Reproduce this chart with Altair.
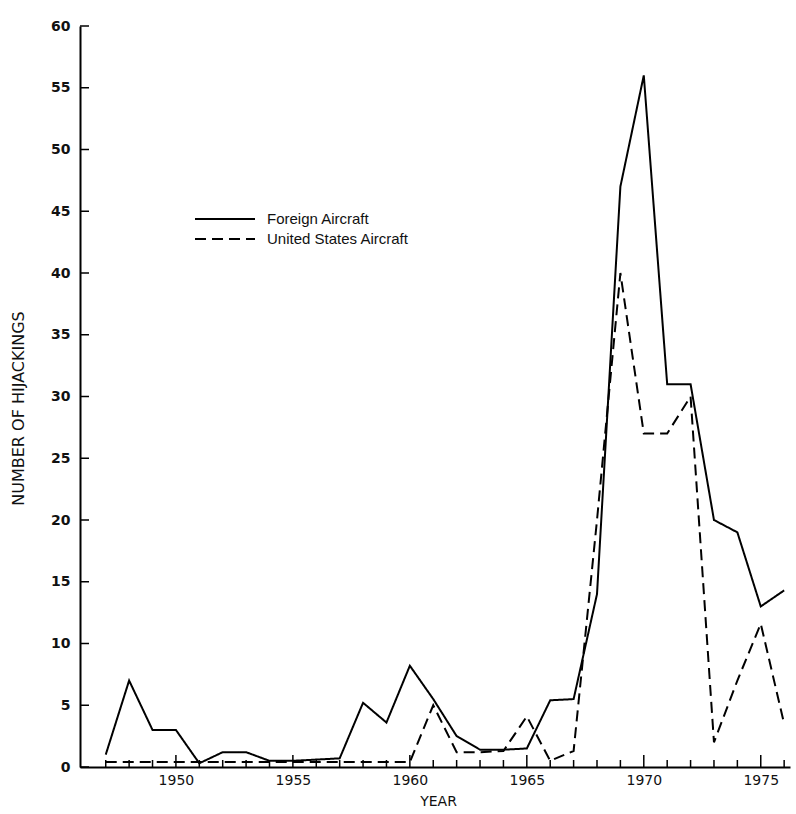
import altair as alt
import pandas as pd

years = [1947, 1948, 1949, 1950, 1951, 1952, 1953, 1954, 1955, 1956,
         1957, 1958, 1959, 1960, 1961, 1962, 1963, 1964, 1965, 1966,
         1967, 1968, 1969, 1970, 1971, 1972, 1973, 1974, 1975, 1976]
foreign = [1.0, 7.0, 3.0, 3.0, 0.3, 1.2, 1.2, 0.5, 0.5, 0.6,
           0.7, 5.2, 3.6, 8.2, 5.5, 2.5, 1.4, 1.4, 1.5, 5.4,
           5.5, 14.0, 47.0, 56.0, 31.0, 31.0, 20.0, 19.0, 13.0, 14.3]
united_states = [0.4, 0.4, 0.4, 0.4, 0.4, 0.4, 0.4, 0.4, 0.4, 0.4,
                 0.4, 0.4, 0.4, 0.4, 5.0, 1.2, 1.2, 1.3, 4.1, 0.5,
                 1.3, 20.0, 40.0, 27.0, 27.0, 30.0, 2.0, 7.0, 11.6, 3.5]
series_names = ["Foreign Aircraft", "United States Aircraft"]
y_tick_values = [0, 5, 10, 15, 20, 25, 30, 35, 40, 45, 50, 55, 60]
x_major_ticks = [1950, 1955, 1960, 1965, 1970, 1975]
x_minor_ticks = [1947, 1948, 1949, 1951, 1952, 1953, 1954, 1956, 1957, 1958,
                 1959, 1961, 1962, 1963, 1964, 1966, 1967, 1968, 1969, 1971,
                 1972, 1973, 1974, 1976]

W, H = 710, 741
FONT = "Liberation Sans"
AXFONT = "DejaVu Sans"

rows = []
for yr, f, u in zip(years, foreign, united_states):
    rows.append({"year": yr, "count": f, "series": series_names[0]})
    rows.append({"year": yr, "count": u, "series": series_names[1]})
df = pd.DataFrame(rows)

xscale = alt.Scale(domain=[1945.9, 1976.25], nice=False, zero=False)
yscale = alt.Scale(domain=[0, 60], nice=False)

x_axis = alt.Axis(values=x_major_ticks, format="d", ticks=False, grid=False,
                  domainColor="black", domainWidth=2, labelPadding=6,
                  labelFont=AXFONT, labelFontSize=14, labelColor="#111",
                  title="YEAR", titleFont=AXFONT, titleFontSize=14,
                  titleFontWeight="normal", titleColor="#111",
                  titleX=358, titleY=34, titleBaseline="middle")
y_axis = alt.Axis(values=y_tick_values, ticks=False, grid=False,
                  domainColor="black", domainWidth=2, labelPadding=10,
                  labelFont=AXFONT, labelFontSize=14, labelFontWeight="bold",
                  labelColor="#111",
                  title="NUMBER OF HIJACKINGS", titleFont=AXFONT,
                  titleFontSize=16, titleFontWeight="normal", titleColor="#111",
                  titleAngle=270, titleX=-62, titleY=382,
                  titleAlign="center", titleBaseline="middle")

lines = alt.Chart(df).mark_line(color="black", strokeWidth=2).encode(
    x=alt.X("year:Q", scale=xscale, axis=x_axis),
    y=alt.Y("count:Q", scale=yscale, axis=y_axis),
    strokeDash=alt.StrokeDash(
        "series:N",
        scale=alt.Scale(domain=series_names, range=[[1, 0], [11, 6]]),
        legend=alt.Legend(orient="none", legendX=114, legendY=185, title=None,
                          symbolType="stroke", symbolSize=3600, clipHeight=16,
                          symbolStrokeWidth=2, symbolStrokeColor="black",
                          labelFont=FONT, labelFontSize=15, labelColor="#111",
                          labelLimit=400, rowPadding=4, labelOffset=11)),
)

y_ticks = alt.Chart(pd.DataFrame({"count": y_tick_values})).mark_rule(
    color="black", strokeWidth=1.5).encode(
    y=alt.Y("count:Q", scale=yscale, axis=y_axis),
    x=alt.value(0), x2=alt.value(9))

x_minor = alt.Chart(pd.DataFrame({"year": x_minor_ticks})).mark_rule(
    color="black", strokeWidth=1.5).encode(
    x=alt.X("year:Q", scale=xscale, axis=x_axis),
    y=alt.value(H), y2=alt.value(H - 7))

x_major = alt.Chart(pd.DataFrame({"year": x_major_ticks})).mark_rule(
    color="black", strokeWidth=1.5).encode(
    x=alt.X("year:Q", scale=xscale, axis=x_axis),
    y=alt.value(H), y2=alt.value(H - 12))

chart = alt.layer(lines, y_ticks, x_minor, x_major).properties(
    width=W, height=H,
    autosize=alt.AutoSizeParams(type="none"),
    padding={"left": 80, "top": 26, "right": 6, "bottom": 47},
    background="white",
).configure_view(stroke=None)

chart.save("out.html", embed_options={"renderer": "svg", "actions": False})
